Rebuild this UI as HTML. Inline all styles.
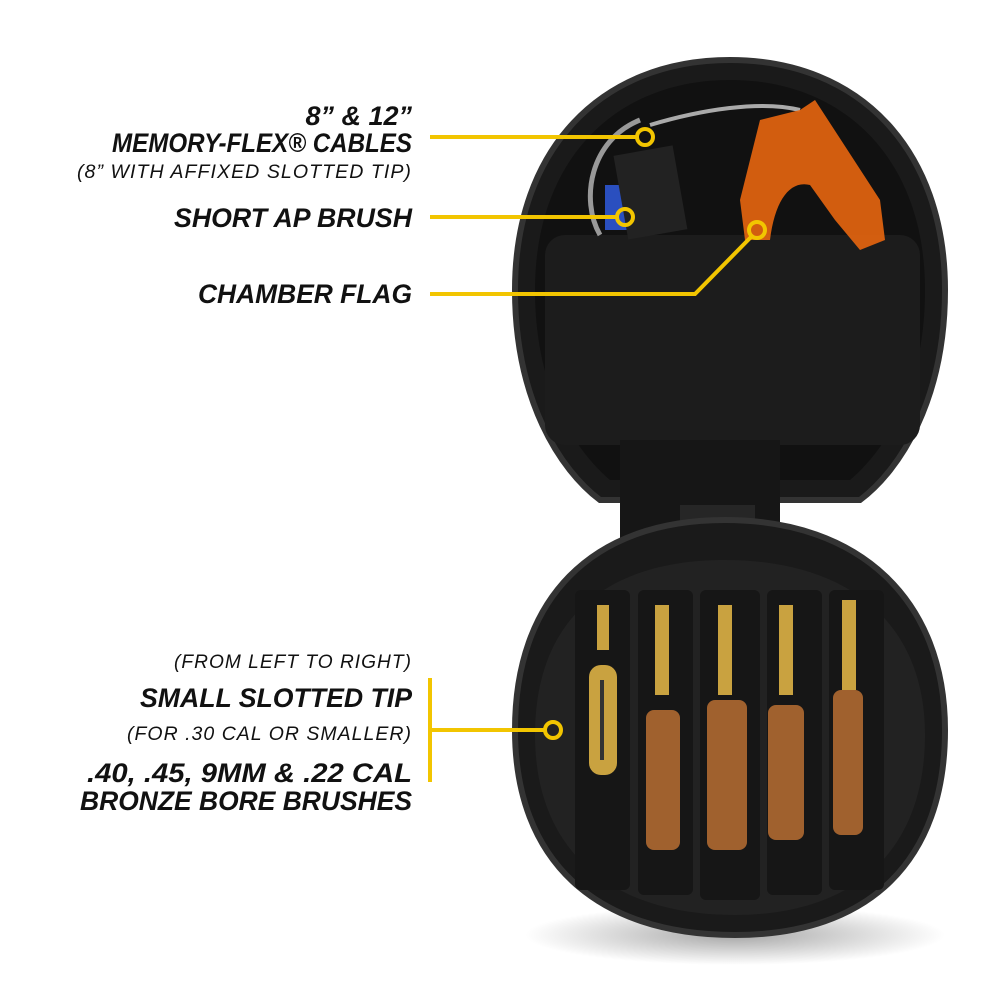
<!DOCTYPE html>
<html><head><meta charset="utf-8"><style>
html,body{margin:0;padding:0;background:#fff;width:1000px;height:1000px;overflow:hidden}
svg text{font-family:"Liberation Sans",sans-serif;font-style:italic;fill:#111}
.b{font-weight:bold;font-size:27px}
.s{font-size:19px;letter-spacing:1px}
</style></head><body>
<svg width="1000" height="1000" viewBox="0 0 1000 1000" xmlns="http://www.w3.org/2000/svg">
<defs>
<radialGradient id="sh" cx="50%" cy="50%" r="50%"><stop offset="0" stop-color="#000" stop-opacity=".35"/><stop offset="1" stop-color="#000" stop-opacity="0"/></radialGradient>
</defs>
<ellipse cx="735" cy="935" rx="210" ry="30" fill="url(#sh)"/>
<!-- lid -->
<path d="M730 60 C860 60 945 150 945 290 C945 400 900 470 860 500 L600 500 C560 470 515 400 515 290 C515 150 600 60 730 60Z" fill="#1a1a1a" stroke="#333" stroke-width="6"/>
<path d="M730 80 C845 80 925 160 925 290 C925 390 885 450 850 480 L610 480 C575 450 535 390 535 290 C535 160 615 80 730 80Z" fill="#111"/>
<rect x="545" y="235" width="375" height="210" rx="20" fill="#1c1c1c"/>
<!-- cable -->
<path d="M640 120 C590 140 580 200 600 235" stroke="#999" stroke-width="5" fill="none"/>
<path d="M650 125 C700 110 760 100 800 110" stroke="#aaa" stroke-width="4" fill="none"/>
<rect x="605" y="185" width="35" height="45" fill="#2a4fbf"/>
<rect x="620" y="150" width="60" height="85" fill="#222" transform="rotate(-10 650 190)"/>
<!-- chamber flag -->
<path d="M760 120 L800 110 L815 100 L880 200 L885 240 L860 250 L835 220 L810 185 C790 180 775 200 770 240 L745 240 L740 200 Z" fill="#e8660f" opacity=".9"/>
<!-- hinge strap -->
<rect x="620" y="440" width="160" height="120" fill="#161616"/>
<rect x="680" y="505" width="75" height="55" fill="#262626"/>
<!-- base -->
<path d="M725 520 C860 520 945 600 945 730 C945 860 870 935 735 935 C595 935 515 860 515 730 C515 600 590 520 725 520Z" fill="#1a1a1a" stroke="#333" stroke-width="6"/>
<path d="M725 560 C845 560 925 620 925 735 C925 850 855 915 735 915 C610 915 535 850 535 735 C535 620 605 560 725 560Z" fill="#222"/>
<g fill="#161616">
<rect x="575" y="590" width="55" height="300" rx="6"/>
<rect x="638" y="590" width="55" height="305" rx="6"/>
<rect x="700" y="590" width="60" height="310" rx="6"/>
<rect x="767" y="590" width="55" height="305" rx="6"/>
<rect x="829" y="590" width="55" height="300" rx="6"/>
</g>
<g fill="#c9a240">
<rect x="597" y="605" width="12" height="45"/><rect x="589" y="665" width="28" height="110" rx="12"/>
<rect x="655" y="605" width="14" height="90"/>
<rect x="718" y="605" width="14" height="90"/>
<rect x="779" y="605" width="14" height="90"/>
<rect x="842" y="600" width="14" height="90"/>
</g>
<rect x="600" y="680" width="4" height="80" fill="#333"/>
<g fill="#a0612e">
<rect x="646" y="710" width="34" height="140" rx="8"/>
<rect x="707" y="700" width="40" height="150" rx="8"/>
<rect x="768" y="705" width="36" height="135" rx="8"/>
<rect x="833" y="690" width="30" height="145" rx="8"/>
</g>
<!-- callouts -->
<g stroke="#f2c500" stroke-width="4" fill="none">
<line x1="430" y1="137" x2="637" y2="137"/>
<circle cx="645" cy="137" r="8" stroke="#f2c500" fill="none"/>
<line x1="430" y1="217" x2="617" y2="217"/>
<circle cx="625" cy="217" r="8"/>
<polyline points="430,294 695,294 752,236"/>
<circle cx="757" cy="230" r="8"/>
<line x1="430" y1="678" x2="430" y2="782"/>
<line x1="430" y1="730" x2="545" y2="730"/>
<circle cx="553" cy="730" r="8"/>
</g>
<g text-anchor="end">
<text class="b" x="412" y="125">8” &amp; 12”</text>
<text class="b" x="412" y="152" textLength="300" lengthAdjust="spacingAndGlyphs">MEMORY-FLEX® CABLES</text>
<text class="s" x="412" y="178" textLength="335" lengthAdjust="spacingAndGlyphs">(8” WITH AFFIXED SLOTTED TIP)</text>
<text class="b" x="412" y="227" textLength="238" lengthAdjust="spacingAndGlyphs">SHORT AP BRUSH</text>
<text class="b" x="412" y="303" textLength="214" lengthAdjust="spacingAndGlyphs">CHAMBER FLAG</text>
<text class="s" x="412" y="668" textLength="238" lengthAdjust="spacingAndGlyphs">(FROM LEFT TO RIGHT)</text>
<text class="b" x="412" y="707" textLength="272" lengthAdjust="spacingAndGlyphs">SMALL SLOTTED TIP</text>
<text class="s" x="412" y="740" textLength="285" lengthAdjust="spacingAndGlyphs">(FOR .30 CAL OR SMALLER)</text>
<text class="b" x="412" y="782" textLength="325" lengthAdjust="spacingAndGlyphs">.40, .45, 9MM &amp; .22 CAL</text>
<text class="b" x="412" y="810" textLength="332" lengthAdjust="spacingAndGlyphs">BRONZE BORE BRUSHES</text>
</g>
</svg>
</body></html>
